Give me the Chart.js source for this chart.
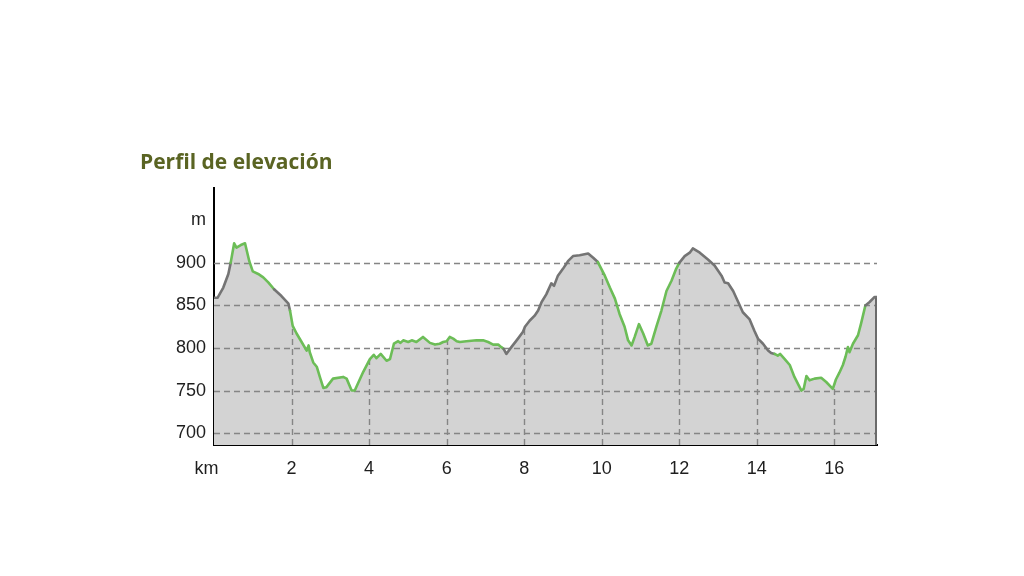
<!DOCTYPE html>
<html>
<head>
<meta charset="utf-8">
<script src="https://cdn.jsdelivr.net/npm/chart.js@4.4.1/dist/chart.umd.min.js"></script>
<style>
  html, body { margin: 0; padding: 0; background: #ffffff; }
  #wrap { width: 1024px; height: 576px; }
</style>
</head>
<body>
<div id="wrap"><canvas id="c" width="1024" height="576"></canvas></div>
<script>
// ---- data ----
const titleText = 'Perfil de elevación';
const distanceKm = [
  0.00, 0.09, 0.24, 0.37, 0.43, 0.52, 0.58, 0.69, 0.80, 0.91,
  1.00, 1.14, 1.27, 1.40, 1.55, 1.74, 1.92, 1.96, 2.03, 2.13,
  2.26, 2.39, 2.44, 2.47, 2.56, 2.65, 2.73, 2.82, 2.90, 3.07,
  3.33, 3.42, 3.55, 3.63, 3.85, 4.02, 4.12, 4.19, 4.30, 4.45,
  4.54, 4.64, 4.75, 4.81, 4.88, 5.01, 5.10, 5.22, 5.39, 5.57,
  5.70, 5.82, 5.91, 6.00, 6.08, 6.17, 6.26, 6.34, 6.51, 6.77,
  6.94, 7.07, 7.20, 7.33, 7.41, 7.47, 7.54, 7.67, 7.84, 7.97,
  8.02, 8.14, 8.27, 8.36, 8.45, 8.57, 8.70, 8.77, 8.87, 9.00,
  9.13, 9.26, 9.43, 9.65, 9.78, 9.90, 10.08, 10.21, 10.34, 10.46,
  10.59, 10.68, 10.77, 10.85, 10.96, 11.07, 11.19, 11.28, 11.41, 11.54,
  11.67, 11.80, 11.92, 12.00, 12.14, 12.27, 12.35, 12.53, 12.74, 12.91,
  13.09, 13.17, 13.26, 13.39, 13.52, 13.64, 13.81, 13.94, 14.03, 14.16,
  14.29, 14.37, 14.46, 14.54, 14.60, 14.72, 14.85, 14.97, 15.15, 15.21,
  15.28, 15.36, 15.49, 15.66, 15.79, 15.96, 16.04, 16.13, 16.22, 16.29,
  16.35, 16.39, 16.48, 16.61, 16.69, 16.80, 16.91, 17.04, 17.10
];
const elevationM = [
  859, 859, 871, 887, 900, 923, 918, 921, 923, 902,
  890, 887, 883, 877, 869, 861, 852, 844, 826, 817,
  807, 797, 803, 795, 783, 778, 766, 753, 754, 764,
  766, 764, 750, 750, 772, 787, 792, 788, 793, 785,
  787, 805, 808, 806, 809, 807, 809, 807, 813, 806,
  804, 805, 807, 808, 813, 811, 808, 807, 808, 809,
  809, 807, 804, 804, 801, 799, 793, 801, 811, 819,
  825, 832, 838, 844, 854, 863, 876, 873, 885, 893,
  902, 908, 909, 911, 906, 901, 885, 871, 858, 840,
  825, 809, 803, 813, 828, 817, 803, 805, 825, 844,
  867, 879, 893, 900, 908, 912, 917, 912, 904, 897,
  885, 877, 876, 867, 854, 842, 834, 820, 811, 805,
  797, 794, 793, 791, 793, 787, 780, 766, 750, 752,
  767, 762, 764, 765, 760, 752, 763, 771, 780, 790,
  801, 795, 805, 815, 829, 850, 854, 860, 860
];
// stretches of the route drawn in green (km from, km to)
const greenSections = [[0.43, 1.55], [1.96, 7.47], [9.90, 12.00], [14.50, 16.80]];
const xTickValues = [0, 2, 4, 6, 8, 10, 12, 14, 16];
const xUnitLabel = 'km';
const yTickValues = [700, 750, 800, 850, 900, 950];
const yGridValues = [700, 750, 800, 850, 900];
const yUnitLabel = 'm';
const yUnitTick = 950;

// ---- styles ----
const GREEN = '#6cbd57';
const GREY_LINE = '#747474';
const FILL = '#d3d3d3';
const GRID = '#858585';

const points = distanceKm.map((d, i) => ({ x: d, y: elevationM[i] }));
const inGreen = km => greenSections.some(([a, b]) => km >= a && km <= b);

const gridPlugin = {
  id: 'profileGrid',
  beforeDatasetsDraw(chart) {
    const { ctx, chartArea: ca, scales: { x, y } } = chart;
    const pts = chart.getDatasetMeta(0).data;
    ctx.save();
    ctx.setLineDash([6, 4]);
    ctx.lineWidth = 1.4;
    ctx.strokeStyle = GRID;
    yGridValues.forEach(v => {
      const py = Math.round(y.getPixelForValue(v)) + 0.5;
      ctx.beginPath();
      ctx.moveTo(ca.left, py);
      ctx.lineTo(ca.right, py);
      ctx.stroke();
    });
    ctx.beginPath();
    ctx.moveTo(pts[0].x, ca.bottom);
    pts.forEach(p => ctx.lineTo(p.x, p.y));
    ctx.lineTo(pts[pts.length - 1].x, ca.bottom);
    ctx.closePath();
    ctx.clip();
    xTickValues.forEach(v => {
      if (v === 0) return;
      const px = Math.round(x.getPixelForValue(v)) + 0.5;
      ctx.beginPath();
      ctx.moveTo(px, ca.bottom);
      ctx.lineTo(px, ca.top);
      ctx.stroke();
    });
    ctx.setLineDash([]);
    ctx.strokeStyle = '#6a6a6a';
    ctx.lineWidth = 2;
    const rx = pts[pts.length - 1].x - 1;
    ctx.beginPath();
    ctx.moveTo(rx, ca.bottom);
    ctx.lineTo(rx, ca.top);
    ctx.stroke();
    ctx.restore();
  }
};

new Chart(document.getElementById('c'), {
  type: 'line',
  data: {
    datasets: [{
      // filled profile area
      data: points,
      borderWidth: 0,
      borderColor: 'rgba(0,0,0,0)',
      backgroundColor: FILL,
      fill: 'start',
      pointRadius: 0,
      tension: 0
    }, {
      // profile line coloured by section
      data: points,
      borderWidth: 2.6,
      borderColor: GREY_LINE,
      fill: false,
      pointRadius: 0,
      tension: 0,
      borderJoinStyle: 'round',
      borderCapStyle: 'round',
      segment: {
        borderColor: c => inGreen((c.p0.parsed.x + c.p1.parsed.x) / 2) ? GREEN : GREY_LINE
      }
    }]
  },
  options: {
    responsive: false,
    animation: false,
    devicePixelRatio: 1,
    layout: { padding: { left: 140, right: 147, top: 150, bottom: 0 } },
    plugins: {
      legend: { display: false },
      tooltip: { enabled: false },
      filler: { drawTime: 'beforeDatasetsDraw' },
      title: {
        display: true,
        text: titleText,
        align: 'start',
        color: '#5a6423',
        font: { family: 'Open Sans', size: 21, weight: 'bold', lineHeight: 1.2 },
        padding: { top: 0, bottom: 12.8 }
      }
    },
    scales: {
      x: {
        type: 'linear',
        min: 0,
        max: distanceKm[distanceKm.length - 1],
        afterBuildTicks: s => { s.ticks = xTickValues.map(v => ({ value: v })); },
        afterFit: s => { s.height = 131; },
        grid: { display: true, color: 'rgba(0,0,0,0)', drawTicks: false },
        border: { display: true, color: '#000', width: 2 },
        ticks: {
          padding: 13,
          color: '#1e1e1e',
          font: { family: 'Liberation Sans', size: 18 },
          maxRotation: 0,
          autoSkip: false,
          callback: v => v === 0 ? xUnitLabel + '   ' : String(v)
        }
      },
      y: {
        type: 'linear',
        min: 686,
        max: 988,
        afterBuildTicks: s => { s.ticks = yTickValues.map(v => ({ value: v })); },
        afterFit: s => { s.width = 74; },
        grid: { display: true, color: 'rgba(0,0,0,0)', drawTicks: false },
        border: { display: true, color: '#000', width: 2 },
        ticks: {
          padding: 8,
          color: '#1e1e1e',
          font: { family: 'Liberation Sans', size: 18 },
          callback: v => v === yUnitTick ? yUnitLabel : String(v)
        }
      }
    }
  },
  plugins: [gridPlugin]
});
</script>
</body>
</html>
